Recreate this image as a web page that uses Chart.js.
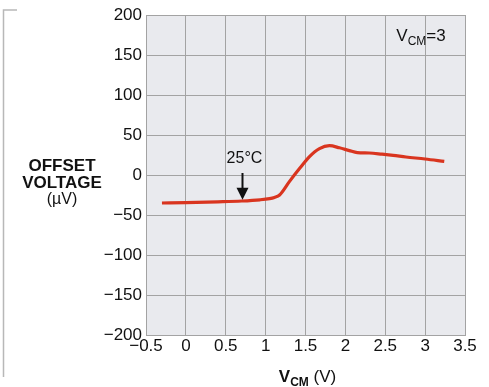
<!DOCTYPE html>
<html><head><meta charset="utf-8">
<script src="https://cdn.jsdelivr.net/npm/chart.js@4"></script>
<style>html,body{margin:0;padding:0;background:#fff}#wrap{width:489px;height:387px}</style>
</head><body><div id="wrap"><canvas id="c"></canvas></div>
<script>
const vcm = [-0.3, 0.0, 0.4, 0.7, 0.93, 1.05, 1.11, 1.175, 1.3, 1.425, 1.55, 1.675, 1.8, 1.925, 2.05, 2.15, 2.3, 2.46, 2.6, 2.76, 3.0, 3.24];
const offset = [-35, -34.5, -33.5, -32.5, -31, -29.5, -28, -25, -8, 8, 23, 33, 36.6, 34, 30.5, 28, 27.5, 26, 24.5, 22.5, 20, 17];
const xTicks = [-0.5, 0, 0.5, 1, 1.5, 2, 2.5, 3, 3.5];
const yTicks = [-200, -150, -100, -50, 0, 50, 100, 150, 200];
const arrowAt = {x: 0.71, y0: 2.5, y1: -31, label: '25°C', labelY: 21};
const FONT = "'Liberation Sans', Arial, sans-serif";

const fmt = v => String(v).replace('-', '\u2212');

const bgPlugin = {
  id: 'bg',
  beforeDraw(chart) {
    const {ctx, chartArea: a} = chart;
    ctx.save();
    ctx.fillStyle = '#e9eaee';
    ctx.fillRect(a.left, a.top, a.right - a.left, a.bottom - a.top);
    ctx.strokeStyle = '#b8b8b8'; ctx.lineWidth = 1.5;
    ctx.beginPath(); ctx.moveTo(17, 10); ctx.lineTo(3.5, 10); ctx.lineTo(3.5, 377); ctx.stroke();
    ctx.restore();
  },
  afterDraw(chart) {
    const {ctx, scales: {x, y}, chartArea: a} = chart;
    ctx.save();
    ctx.fillStyle = '#111';
    ctx.textAlign = 'center'; ctx.textBaseline = 'middle';
    ctx.font = `bold 17px ${FONT}`;
    ctx.fillText('OFFSET', 62, 166);
    ctx.fillText('VOLTAGE', 62, 183);
    ctx.font = `16px ${FONT}`;
    ctx.fillText('(µV)', 62, 200);
    const cx = (a.left + a.right) / 2, ty = 376;
    ctx.textAlign = 'left'; ctx.textBaseline = 'alphabetic';
    const p1 = 'V', p2 = 'CM', p3 = ' (V)';
    ctx.font = `bold 17px ${FONT}`; const w1 = ctx.measureText(p1).width;
    ctx.font = `bold 12px ${FONT}`; const w2 = ctx.measureText(p2).width;
    ctx.font = `17px ${FONT}`; const w3 = ctx.measureText(p3).width;
    let sx = cx - (w1 + w2 + w3) / 2 + 2;
    const base = ty + 6;
    ctx.font = `bold 17px ${FONT}`; ctx.fillText(p1, sx, base); sx += w1;
    ctx.font = `bold 12px ${FONT}`; ctx.fillText(p2, sx, base + 4); sx += w2;
    ctx.font = `17px ${FONT}`; ctx.fillText(p3, sx, base);
    ctx.font = `17px ${FONT}`; const q1 = ctx.measureText('V').width;
    ctx.font = `12px ${FONT}`; const q2 = ctx.measureText('CM').width;
    ctx.font = `17px ${FONT}`; const q3 = ctx.measureText('=3').width;
    let lx = 421 - (q1 + q2 + q3) / 2; const lb = 41;
    ctx.fillText('V', lx, lb); lx += q1;
    ctx.font = `12px ${FONT}`; ctx.fillText('CM', lx, lb + 4); lx += q2;
    ctx.font = `17px ${FONT}`; ctx.fillText('=3', lx, lb);
    const axp = x.getPixelForValue(arrowAt.x);
    const ya = y.getPixelForValue(arrowAt.y0), yb = y.getPixelForValue(arrowAt.y1);
    ctx.strokeStyle = '#111'; ctx.lineWidth = 2;
    ctx.beginPath(); ctx.moveTo(axp, ya); ctx.lineTo(axp, yb - 10); ctx.stroke();
    ctx.beginPath(); ctx.moveTo(axp - 6, yb - 12); ctx.lineTo(axp + 6, yb - 12); ctx.lineTo(axp, yb); ctx.closePath(); ctx.fill();
    ctx.textAlign = 'center'; ctx.textBaseline = 'middle';
    ctx.font = `16px ${FONT}`;
    ctx.fillText(arrowAt.label, axp + 2, y.getPixelForValue(arrowAt.labelY));
    ctx.restore();
  }
};

new Chart(document.getElementById('c'), {
  type: 'line',
  data: {
    datasets: [{
      data: vcm.map((v, i) => ({x: v, y: offset[i]})),
      borderColor: '#d9351f', borderWidth: 3.2, pointRadius: 0,
      cubicInterpolationMode: 'monotone', fill: false
    }]
  },
  options: {
    responsive: true, maintainAspectRatio: false, animation: false,
    devicePixelRatio: 1,
    layout: {padding: {left: 0, right: 24, top: 15, bottom: 0}},
    plugins: {legend: {display: false}, tooltip: {enabled: false}},
    scales: {
      x: {
        type: 'linear', min: -0.5, max: 3.5,
        afterBuildTicks: s => { s.ticks = xTicks.map(v => ({value: v})); },
        afterFit: s => { s.height = 52; },
        grid: {color: '#a3a3a3', lineWidth: 1, drawTicks: false},
        border: {color: '#a3a3a3'},
        ticks: {color: '#111', font: {family: FONT, size: 17}, padding: 1, maxRotation: 0, autoSkip: false, callback: v => fmt(v)}
      },
      y: {
        min: -200, max: 200,
        afterBuildTicks: s => { s.ticks = yTicks.map(v => ({value: v})); },
        afterFit: s => { s.width = 146; },
        grid: {color: '#a3a3a3', lineWidth: 1, drawTicks: false},
        border: {color: '#a3a3a3'},
        ticks: {color: '#111', font: {family: FONT, size: 17}, padding: 4, autoSkip: false, callback: v => fmt(v)}
      }
    }
  },
  plugins: [bgPlugin]
});
</script></body></html>
